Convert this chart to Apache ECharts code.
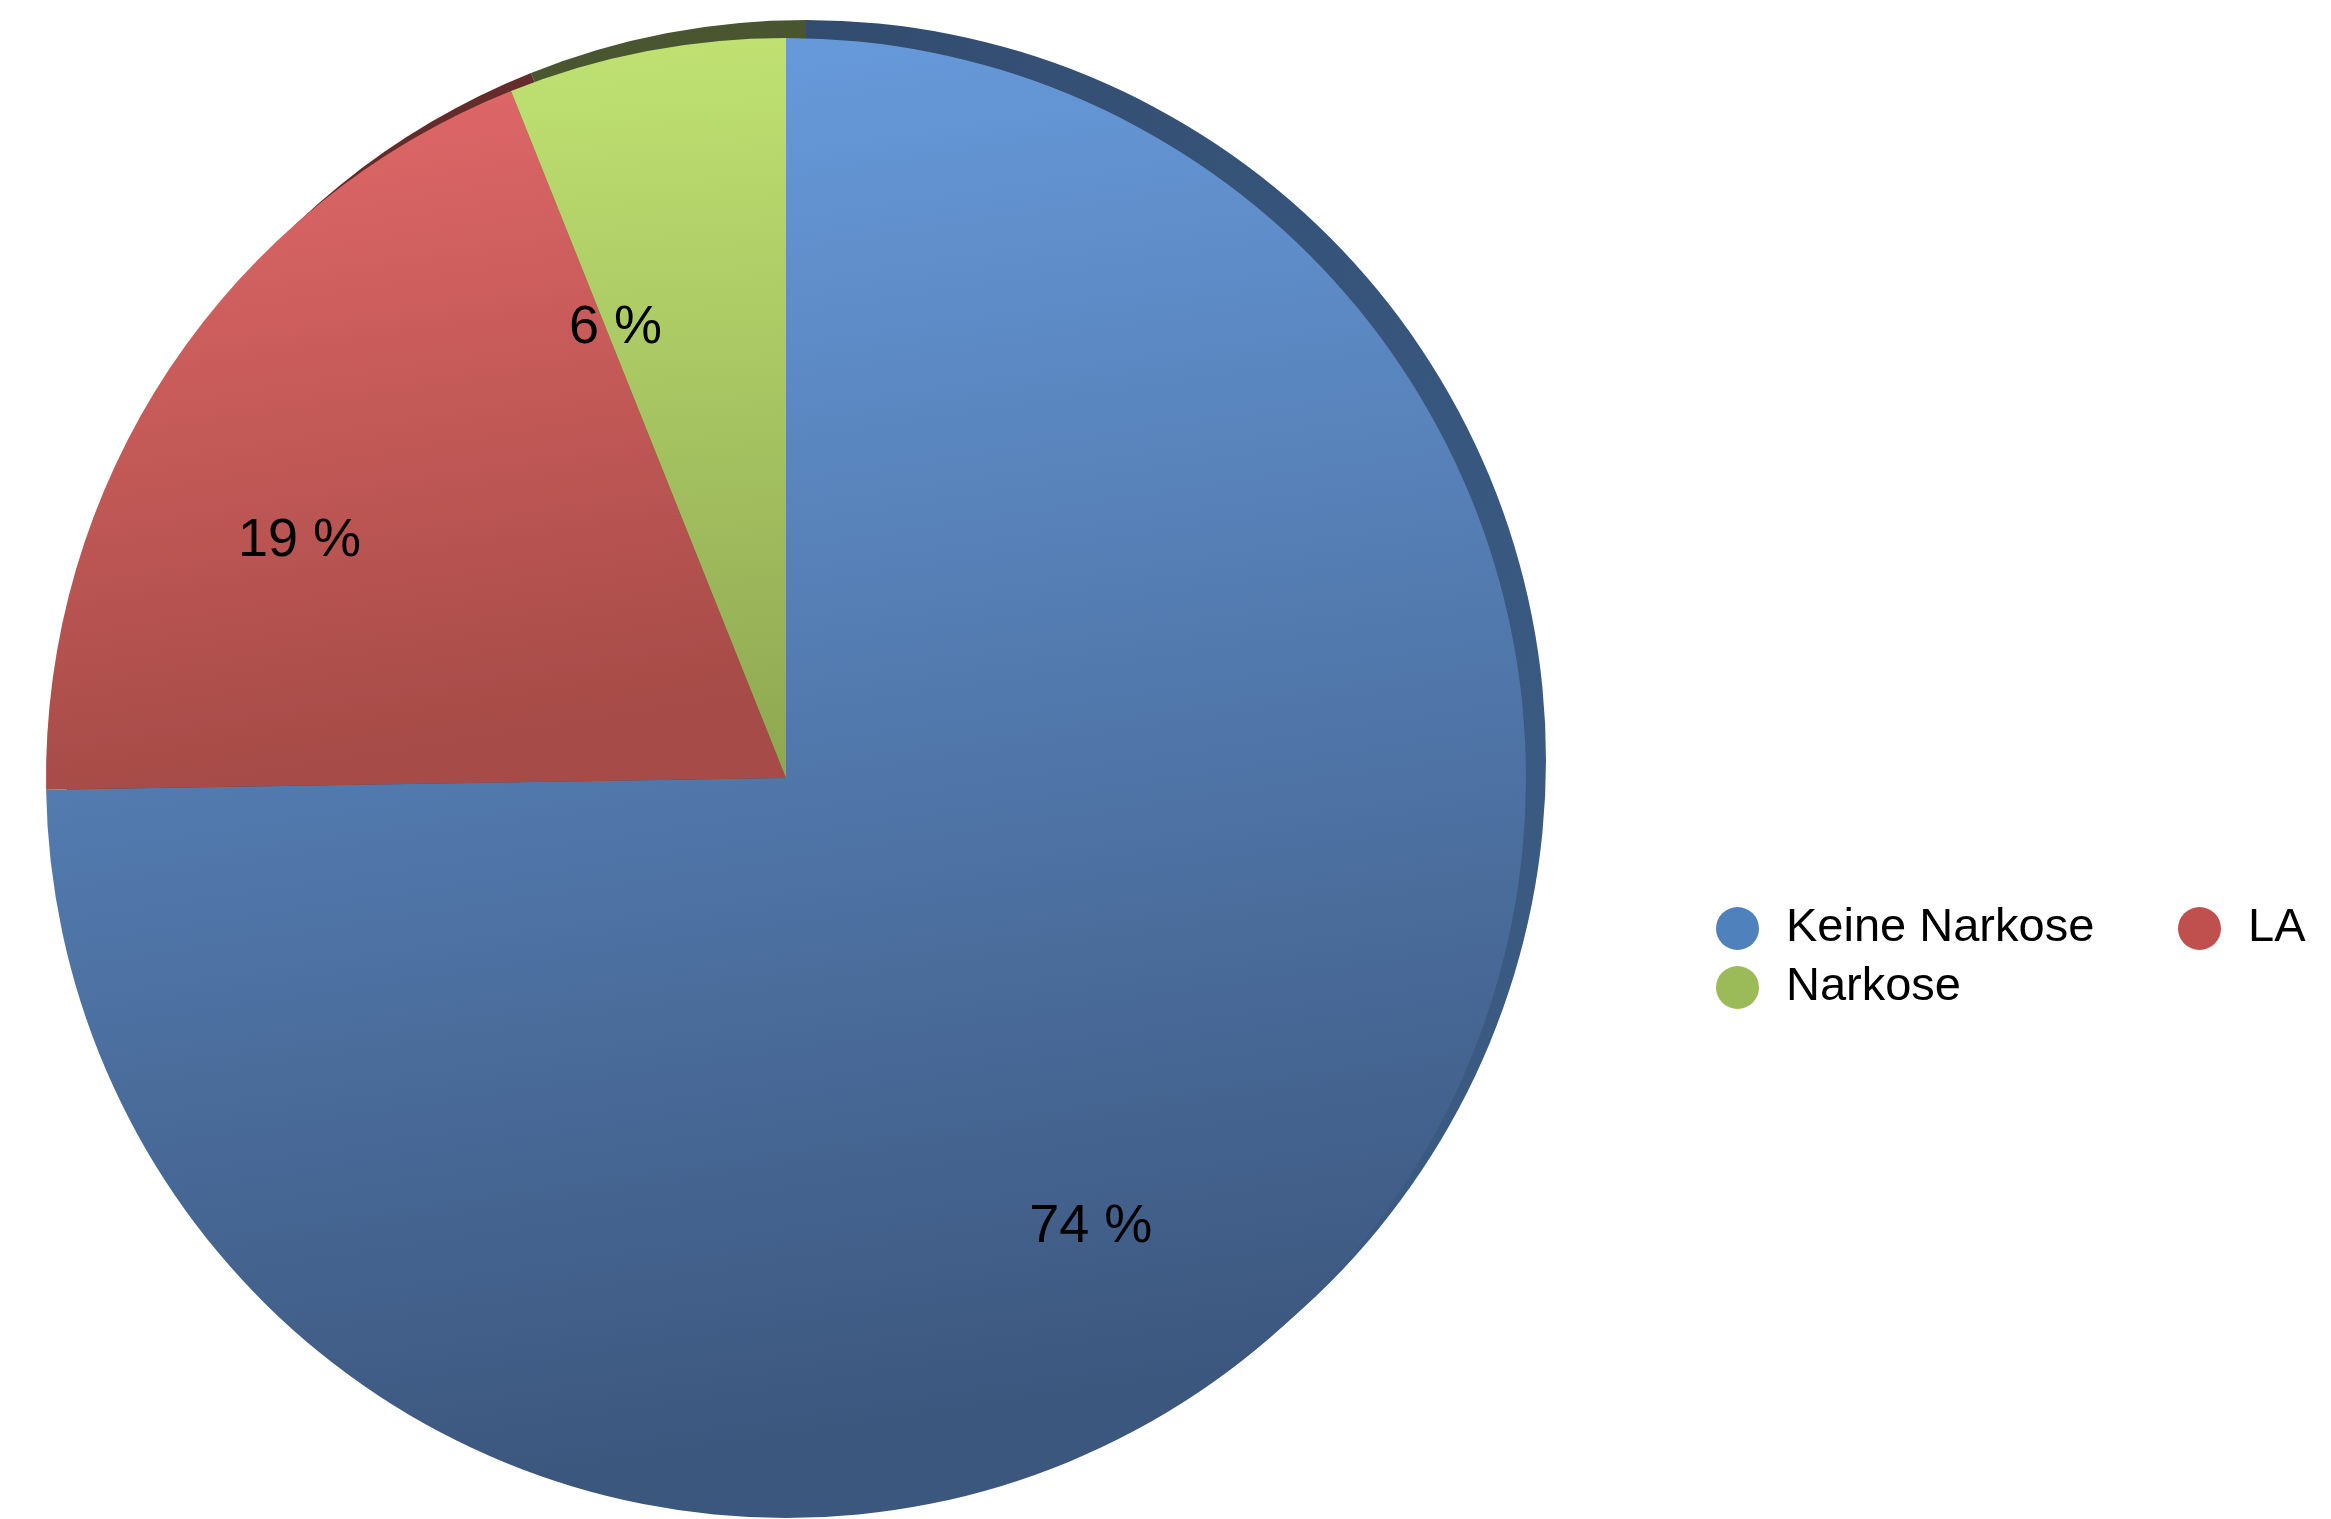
<!DOCTYPE html>
<html>
<head>
<meta charset="utf-8">
<script src="https://cdn.jsdelivr.net/npm/echarts@6/dist/echarts.min.js"></script>
<style>
html,body{margin:0;padding:0;background:#fff;}
#chart{width:2331px;height:1519px;}
</style>
</head>
<body>
<div id="chart"></div>
<script>
// Data
const categories = ['Keine Narkose', 'LA', 'Narkose'];
const values = [74, 19, 6];
const legendColors = ['#4f81bd', '#c0504d', '#9bbb59'];

const gradients = [
  ['#6a9fe2', '#3c577e'],
  ['#e3696a', '#a64b47'],
  ['#c0e272', '#8fa852']
];
const rimColors = [
  ['#2c4362', '#3a5a82'],
  ['#5e2a28', '#6a2e2c'],
  ['#4a5630', '#48542e']
];
const labelOffsets = [[39, 187], [-176, -30], [-100, -84]];

const ellipse = 'path://M50,0 A50,50 0 1,1 50,100 A50,50 0 1,1 50,0 Z';
const font = '"Liberation Sans", Arial, Helvetica, sans-serif';

function grad(c, x2, y2) {
  return {
    type: 'linear', x: 0, y: 0, x2: x2, y2: y2,
    colorStops: [
      { offset: 0, color: c[0] },
      { offset: 1, color: c[1] }
    ]
  };
}

const frontData = categories.map((name, i) => ({
  name: name,
  value: values[i],
  itemStyle: { color: grad(gradients[i], 0.15, 1) },
  label: { offset: labelOffsets[i] }
}));

const backData = categories.map((name, i) => ({
  name: name,
  value: values[i],
  itemStyle: { color: grad(rimColors[i], 1, 0.5) }
}));

function makeLegend(idx, left, top) {
  return {
    show: true,
    orient: 'horizontal',
    left: left,
    top: top,
    padding: 0,
    icon: ellipse,
    itemWidth: 43,
    itemHeight: 43,
    selectedMode: false,
    data: [{ name: categories[idx], itemStyle: { color: legendColors[idx] } }],
    textStyle: {
      fontFamily: font,
      fontSize: 47,
      color: '#000',
      padding: [0, 0, 0, 22]
    }
  };
}

const chart = echarts.init(document.getElementById('chart'), null, { renderer: 'canvas' });
chart.setOption({
  animation: false,
  backgroundColor: '#ffffff',
  legend: [
    makeLegend(0, 1716, 905),
    makeLegend(1, 2178, 905),
    makeLegend(2, 1716, 964)
  ],
  series: [
    {
      type: 'pie',
      name: 'rim',
      z: 1,
      silent: true,
      center: [806, 760],
      radius: [0, 740],
      startAngle: 90,
      clockwise: true,
      legendHoverLink: false,
      itemStyle: { borderWidth: 0 },
      emphasis: { disabled: true },
      label: { show: false },
      labelLine: { show: false },
      data: backData
    },
    {
      type: 'pie',
      name: 'main',
      z: 2,
      center: [786, 778],
      radius: [0, 740],
      startAngle: 90,
      clockwise: true,
      avoidLabelOverlap: false,
      itemStyle: { borderWidth: 0 },
      emphasis: { disabled: true },
      label: {
        show: true,
        position: 'inside',
        formatter: '{c} %',
        fontFamily: font,
        fontSize: 54,
        color: '#000'
      },
      labelLine: { show: false },
      data: frontData
    }
  ]
});
</script>
</body>
</html>
